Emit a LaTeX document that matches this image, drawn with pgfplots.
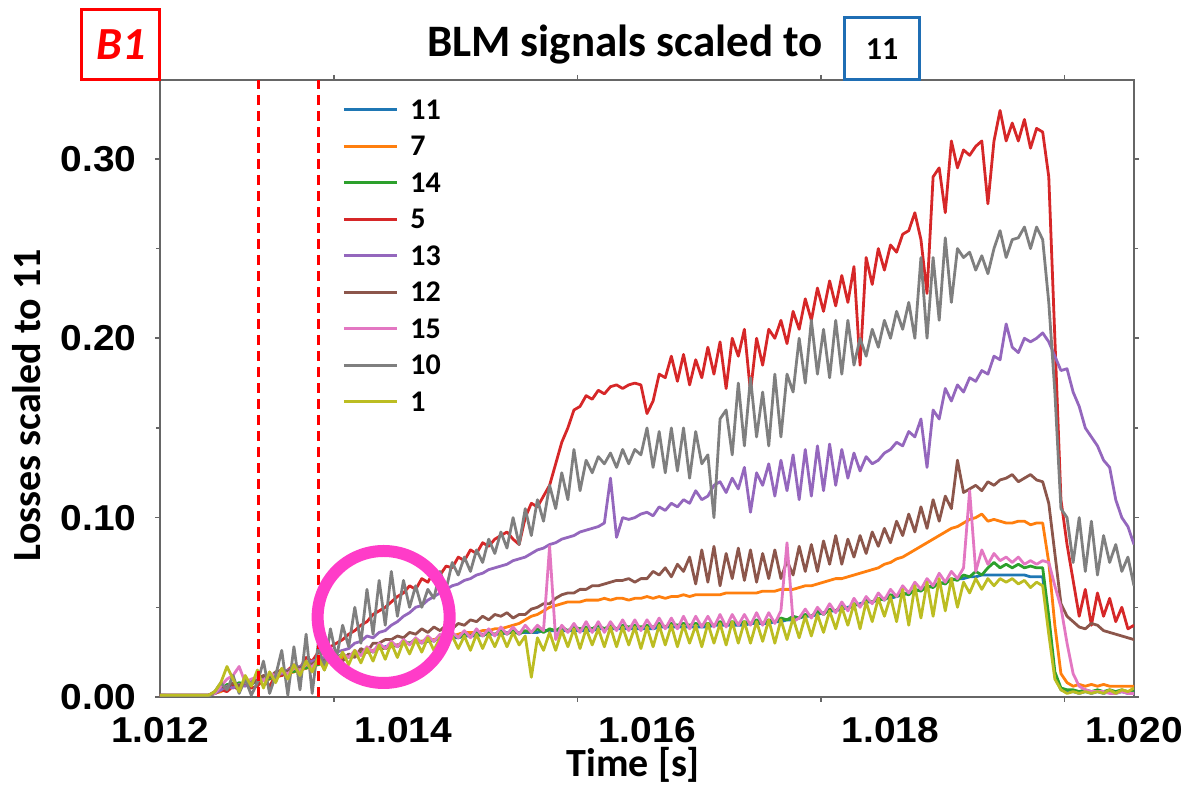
\documentclass[border=0pt]{standalone}
\usepackage{fontspec}
\usepackage{pgfplots}
\usepackage{pgfplotstable}
\pgfplotsset{compat=1.18}
\setmainfont{Carlito}
\newfontfamily\tickfont{Liberation Sans}[FakeStretch=1.08]
\definecolor{cBlue}{HTML}{1F77B4}
\definecolor{cOrange}{HTML}{FF7F0E}
\definecolor{cGreen}{HTML}{2CA02C}
\definecolor{cRed}{HTML}{D62728}
\definecolor{cPurple}{HTML}{9467BD}
\definecolor{cBrown}{HTML}{8C564B}
\definecolor{cPink}{HTML}{E377C2}
\definecolor{cGray}{HTML}{7F7F7F}
\definecolor{cOlive}{HTML}{BCBD22}
\definecolor{cMag}{RGB}{255,60,200}
\definecolor{boxBlue}{RGB}{31,110,180}

\pgfplotstableread{
x s11 s7 s14 s5 s13 s12 s15 s10 s1
1.01200 .001 .001 .001 .001 .001 .001 .001 .001 .001
1.01240 .001 .001 .001 .001 .001 .001 .001 .000 .001
1.01245 .002 .002 .002 .002 .002 .003 .002 .003 .003
1.01250 .004 .003 .004 .004 .004 .006 .006 .008 .008
1.01255 .006 .005 .007 .003 .006 .005 .010 .004 .017
1.01260 .007 .006 .006 .006 .005 .008 .012 .012 .010
1.01265 .006 .006 .008 .004 .007 .006 .017 .002 .003
1.01270 .008 .007 .007 .008 .006 .009 .008 .010 .012
1.01275 .007 .008 .009 .005 .008 .007 .010 .001 .006
1.01280 .009 .009 .008 .006 .009 .010 .011 .008 .015
1.01285 .010 .009 .011 .010 .010 .012 .009 .020 .005
1.01290 .011 .010 .010 .006 .011 .011 .013 .002 .014
1.01295 .012 .011 .013 .012 .012 .014 .012 .012 .008
1.01300 .013 .012 .012 .012 .013 .015 .014 .026 .016
1.01305 .014 .013 .015 .015 .015 .014 .013 .001 .010
1.01310 .015 .014 .014 .018 .016 .017 .016 .028 .018
1.01315 .016 .015 .017 .016 .017 .016 .015 .004 .012
1.01320 .017 .016 .016 .022 .019 .019 .018 .035 .020
1.01325 .018 .017 .019 .020 .020 .018 .017 .002 .014
1.01330 .019 .018 .018 .025 .021 .021 .020 .030 .022
1.01335 .020 .019 .021 .024 .022 .020 .019 .015 .015
1.01340 .021 .020 .020 .028 .024 .023 .022 .038 .023
1.01345 .021 .021 .022 .030 .025 .022 .021 .022 .017
1.01350 .022 .022 .024 .032 .026 .020 .024 .040 .025
1.01355 .023 .023 .022 .035 .027 .024 .022 .028 .018
1.01360 .024 .024 .025 .037 .030 .022 .026 .050 .026
1.01365 .025 .025 .024 .040 .031 .027 .023 .030 .019
1.01370 .025 .025 .027 .042 .034 .025 .028 .060 .027
1.01375 .026 .026 .025 .046 .033 .030 .025 .035 .020
1.01380 .027 .027 .028 .048 .036 .030 .030 .065 .029
1.01385 .028 .027 .027 .050 .037 .032 .027 .040 .021
1.01390 .029 .028 .030 .053 .040 .032 .031 .070 .030
1.01395 .029 .029 .028 .056 .042 .034 .028 .045 .022
1.01400 .030 .030 .031 .058 .045 .033 .032 .065 .031
1.01405 .030 .030 .030 .062 .047 .036 .029 .050 .024
1.01410 .031 .031 .032 .060 .050 .035 .033 .062 .032
1.01415 .031 .031 .030 .066 .051 .038 .030 .050 .025
1.01420 .031 .032 .033 .064 .054 .036 .034 .060 .033
1.01425 .032 .032 .031 .070 .056 .039 .031 .055 .026
1.01430 .032 .033 .034 .068 .058 .037 .035 .070 .033
1.01435 .032 .033 .032 .073 .060 .040 .032 .060 .027
1.01440 .033 .034 .035 .072 .062 .038 .036 .075 .034
1.01445 .033 .035 .033 .078 .063 .041 .033 .068 .027
1.01450 .034 .036 .035 .076 .065 .040 .037 .078 .034
1.01455 .034 .036 .034 .082 .066 .043 .033 .070 .026
1.01460 .034 .036 .036 .080 .068 .042 .038 .082 .035
1.01465 .035 .037 .034 .086 .069 .045 .034 .075 .027
1.01470 .035 .037 .036 .084 .071 .043 .038 .088 .035
1.01475 .035 .038 .035 .088 .072 .046 .034 .080 .028
1.01480 .035 .038 .037 .090 .073 .045 .039 .092 .036
1.01485 .036 .039 .035 .092 .074 .047 .035 .083 .028
1.01490 .036 .040 .037 .088 .076 .044 .039 .100 .036
1.01495 .036 .041 .035 .085 .077 .046 .035 .085 .029
1.01500 .036 .043 .037 .100 .078 .046 .040 .105 .034
1.01505 .036 .045 .036 .108 .080 .049 .036 .090 .011
1.01510 .036 .046 .038 .106 .082 .050 .040 .110 .033
1.01515 .037 .048 .036 .112 .083 .052 .037 .098 .026
1.01520 .037 .050 .038 .118 .085 .052 .084 .118 .036
1.01525 .037 .051 .037 .130 .086 .055 .032 .105 .026
1.01530 .037 .052 .039 .142 .088 .057 .040 .125 .037
1.01535 .037 .053 .037 .150 .089 .058 .036 .110 .028
1.01540 .037 .053 .039 .160 .090 .058 .041 .138 .038
1.01545 .037 .053 .038 .162 .092 .060 .036 .115 .027
1.01550 .037 .054 .039 .168 .093 .060 .042 .132 .038
1.01555 .037 .054 .038 .166 .094 .062 .036 .125 .029
1.01560 .038 .054 .040 .171 .095 .062 .042 .134 .038
1.01565 .038 .055 .038 .169 .097 .063 .036 .130 .028
1.01570 .038 .054 .040 .173 .122 .064 .042 .136 .039
1.01575 .038 .055 .038 .174 .089 .065 .037 .128 .028
1.01580 .038 .055 .040 .172 .100 .065 .043 .138 .039
1.01585 .038 .054 .039 .174 .099 .066 .037 .130 .029
1.01590 .038 .055 .040 .175 .100 .064 .043 .138 .039
1.01595 .038 .055 .039 .174 .102 .066 .037 .135 .027
1.01600 .038 .056 .040 .158 .103 .066 .043 .150 .039
1.01605 .038 .055 .039 .165 .101 .070 .038 .128 .028
1.01610 .039 .056 .041 .180 .106 .068 .044 .148 .040
1.01615 .039 .055 .039 .178 .104 .072 .038 .125 .029
1.01620 .039 .056 .041 .190 .108 .067 .044 .150 .040
1.01625 .039 .056 .040 .176 .106 .074 .038 .126 .028
1.01630 .039 .057 .041 .191 .110 .070 .045 .150 .040
1.01635 .039 .056 .040 .174 .108 .078 .038 .122 .030
1.01640 .039 .057 .041 .188 .115 .063 .045 .148 .040
1.01645 .039 .057 .040 .178 .110 .082 .039 .130 .028
1.01650 .039 .057 .041 .195 .112 .064 .045 .135 .041
1.01655 .040 .057 .040 .180 .118 .084 .039 .100 .030
1.01660 .040 .057 .042 .198 .120 .062 .046 .155 .041
1.01665 .040 .058 .040 .172 .114 .080 .039 .160 .029
1.01670 .040 .058 .042 .200 .122 .066 .046 .135 .042
1.01675 .040 .058 .041 .190 .116 .083 .040 .175 .030
1.01680 .040 .058 .042 .205 .128 .065 .046 .140 .042
1.01685 .041 .058 .041 .170 .103 .082 .040 .178 .030
1.01690 .041 .058 .043 .200 .125 .064 .047 .145 .042
1.01695 .041 .059 .041 .185 .118 .080 .040 .170 .031
1.01700 .041 .059 .043 .205 .130 .066 .047 .140 .043
1.01705 .042 .059 .042 .200 .112 .082 .041 .180 .030
1.01710 .042 .060 .044 .210 .132 .066 .048 .145 .043
1.01715 .043 .060 .043 .197 .115 .076 .086 .180 .032
1.01720 .043 .060 .045 .215 .135 .068 .042 .170 .044
1.01725 .044 .061 .044 .205 .110 .084 .044 .200 .033
1.01730 .045 .062 .046 .222 .138 .070 .049 .175 .045
1.01735 .045 .062 .045 .210 .112 .085 .044 .210 .034
1.01740 .046 .063 .048 .228 .140 .070 .050 .180 .046
1.01745 .047 .064 .046 .215 .115 .087 .046 .205 .036
1.01750 .048 .065 .049 .232 .141 .074 .052 .178 .048
1.01755 .048 .066 .048 .218 .118 .090 .047 .210 .038
1.01760 .049 .066 .051 .235 .138 .074 .053 .180 .050
1.01765 .050 .067 .049 .220 .122 .088 .048 .210 .040
1.01770 .051 .068 .052 .240 .136 .078 .055 .185 .052
1.01775 .052 .069 .051 .185 .126 .090 .050 .200 .038
1.01780 .053 .070 .054 .245 .134 .080 .056 .190 .053
1.01785 .053 .071 .053 .230 .130 .092 .052 .205 .042
1.01790 .054 .072 .055 .250 .132 .084 .058 .195 .055
1.01795 .055 .074 .054 .238 .136 .094 .054 .210 .045
1.01800 .055 .075 .057 .252 .138 .086 .060 .200 .056
1.01805 .056 .077 .056 .248 .142 .098 .056 .215 .042
1.01810 .057 .078 .058 .258 .140 .090 .062 .205 .060
1.01815 .058 .080 .057 .260 .148 .102 .058 .220 .040
1.01820 .059 .082 .060 .270 .145 .092 .064 .200 .062
1.01825 .060 .084 .059 .255 .155 .106 .060 .245 .044
1.01830 .061 .086 .062 .225 .128 .094 .066 .200 .064
1.01835 .062 .088 .061 .290 .160 .110 .062 .245 .045
1.01840 .063 .090 .064 .295 .155 .098 .069 .210 .066
1.01845 .064 .092 .063 .270 .172 .112 .064 .256 .048
1.01850 .065 .094 .066 .310 .165 .105 .070 .220 .066
1.01855 .066 .095 .065 .295 .174 .132 .066 .250 .050
1.01860 .066 .097 .068 .305 .170 .114 .072 .245 .064
1.01865 .067 .099 .067 .302 .178 .116 .115 .248 .058
1.01870 .067 .100 .070 .307 .176 .118 .070 .238 .066
1.01875 .068 .102 .068 .310 .182 .115 .082 .246 .060
1.01880 .068 .098 .072 .275 .180 .120 .074 .236 .066
1.01885 .068 .099 .075 .310 .190 .118 .080 .250 .062
1.01890 .068 .098 .072 .327 .188 .121 .076 .260 .066
1.01895 .068 .097 .074 .310 .208 .122 .078 .245 .064
1.01900 .068 .097 .072 .320 .195 .124 .075 .255 .066
1.01905 .068 .098 .074 .310 .192 .120 .078 .256 .063
1.01910 .068 .098 .072 .322 .200 .122 .074 .262 .065
1.01915 .067 .096 .073 .306 .198 .124 .076 .250 .061
1.01920 .067 .097 .072 .317 .200 .121 .074 .262 .064
1.01925 .067 .097 .072 .315 .203 .120 .076 .255 .062
1.01930 .040 .075 .045 .290 .198 .108 .075 .220 .035
1.01935 .012 .040 .014 .200 .190 .080 .062 .170 .010
1.01940 .004 .013 .005 .110 .182 .052 .050 .105 .004
1.01945 .003 .008 .004 .085 .183 .045 .030 .100 .002
1.01950 .003 .006 .004 .065 .170 .042 .013 .075 .003
1.01955 .002 .007 .003 .045 .162 .039 .006 .100 .002
1.01960 .003 .006 .004 .060 .150 .038 .004 .070 .003
1.01965 .002 .007 .003 .040 .145 .041 .003 .098 .002
1.01970 .003 .006 .004 .058 .140 .040 .003 .068 .003
1.01975 .002 .007 .003 .045 .132 .037 .003 .090 .002
1.01980 .003 .006 .004 .055 .128 .036 .002 .075 .004
1.01985 .002 .006 .003 .042 .110 .035 .002 .085 .002
1.01990 .003 .006 .004 .050 .100 .034 .003 .070 .004
1.01995 .002 .006 .003 .038 .095 .033 .002 .078 .003
1.02000 .002 .006 .003 .040 .085 .032 .002 .062 .005
}\blm

\begin{document}
\begin{tikzpicture}
\begin{axis}[
  scale only axis, width=487pt, height=308.5pt,
  xmin=1.012, xmax=1.020, ymin=0, ymax=0.344,
  clip mode=individual,
  axis line style={draw=black!60, line width=1pt},
  tick align=outside,
  major tick length=2.5pt, minor tick length=2pt,
  every tick/.style={draw=black!60, line width=0.8pt},
  xtick={1.012,1.014,1.016,1.018,1.020},
  xticklabels={1.012,1.014,1.016,1.018,1.020},
  xtick style={draw=none},
  extra x ticks={1.01343,1.01543,1.01743,1.01943},
  extra x tick labels={},
  extra x tick style={xtick style={draw=black!60, line width=0.8pt}},
  ytick={0,0.1,0.2,0.3},
  yticklabels={0.00,0.10,0.20,0.30},
  minor ytick={0.05,0.15,0.25},
  ticklabel style={font=\tickfont\bfseries\fontsize{18}{18}\selectfont},
  yticklabel style={inner xsep=0pt, xshift=-9pt},
  xticklabel style={inner ysep=0pt, yshift=-7.5pt},
  xlabel={Time [s]},
  ylabel={Losses scaled to 11},
  label style={font=\bfseries\fontsize{20}{20}\selectfont},
  xlabel style={at={(axis description cs:0.486,-0.110)}, anchor=center},
  ylabel style={at={(axis description cs:-0.1374,0.473)}, anchor=center},
  legend cell align=left,
  legend image code/.code={\draw[#1] (0pt,0pt) -- (26.5pt,0pt);},
  legend style={at={(axis description cs:0.187,0.968)}, anchor=north west,
    draw=none, fill=none, inner sep=0pt,
    font=\bfseries\fontsize{15}{15}\selectfont,
    nodes={inner xsep=6pt, inner ysep=0pt, text height=9.5pt, text depth=0pt},
    row sep=8.75pt},
  every axis plot/.append style={line width=1.4pt, line join=round},
]
\addplot[cBlue] table[x=x,y=s11]{\blm}; \addlegendentry{11}
\addplot[cOrange] table[x=x,y=s7]{\blm}; \addlegendentry{7}
\addplot[cGreen] table[x=x,y=s14]{\blm}; \addlegendentry{14}
\addplot[cRed] table[x=x,y=s5]{\blm}; \addlegendentry{5}
\addplot[cPurple] table[x=x,y=s13]{\blm}; \addlegendentry{13}
\addplot[cBrown] table[x=x,y=s12]{\blm}; \addlegendentry{12}
\addplot[cPink] table[x=x,y=s15]{\blm}; \addlegendentry{15}
\addplot[cGray] table[x=x,y=s10]{\blm}; \addlegendentry{10}
\addplot[cOlive] table[x=x,y=s1]{\blm}; \addlegendentry{1}
\addplot[red, line width=1.5pt, dash pattern=on 5pt off 3pt, forget plot] coordinates {(1.01281,0) (1.01281,0.344)};
\addplot[red, line width=1.5pt, dash pattern=on 5pt off 3pt, forget plot] coordinates {(1.01330,0) (1.01330,0.344)};
\draw[cMag, line width=6pt] (axis cs:1.013837,0.0446) circle[radius=33pt];
\coordinate (O) at (rel axis cs:0,0);
\end{axis}
\node[font=\bfseries\fontsize{22.5}{22.5}\selectfont, anchor=center] at ([shift={(232.5pt,326pt)}]O) {BLM signals scaled to};
\node[draw=boxBlue, line width=1.5pt, minimum width=37.5pt, minimum height=31pt, inner sep=0pt, font=\bfseries\fontsize{16}{16}\selectfont] at ([shift={(361pt,324pt)}]O) {11};
\node[draw=red, line width=1.5pt, minimum width=39pt, minimum height=35pt, inner sep=0pt, text=red, font=\bfseries\itshape\fontsize{23}{23}\selectfont] at ([shift={(-19.5pt,326pt)}]O) {B1};
\pgfresetboundingbox
\path ([shift={(-80pt,-49pt)}]O) rectangle ++(592.5pt,397.5pt);
\end{tikzpicture}
\end{document}
